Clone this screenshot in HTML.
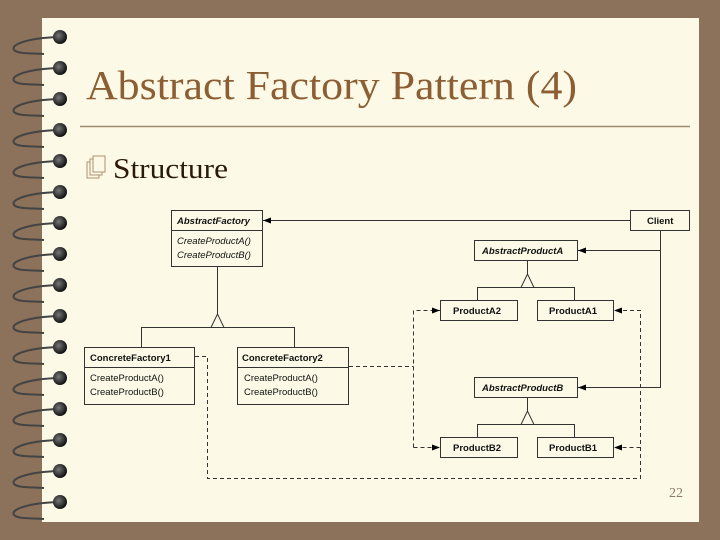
<!DOCTYPE html>
<html><head><style>
body{margin:0;width:720px;height:540px;background:#8C725A;overflow:hidden;position:relative;font-family:"Liberation Serif",serif}
.paper{position:absolute;left:42px;top:18px;width:657px;height:504px;background:#FCFAE6}
</style></head><body>
<div class="paper"></div>
<svg width="720" height="540" style="position:absolute;left:0;top:0" font-family="Liberation Sans, sans-serif">
<defs>
<marker id="ar" markerWidth="8" markerHeight="6" refX="8" refY="3" orient="auto" markerUnits="userSpaceOnUse"><path d="M0,0L8,3L0,6z" fill="#000"/></marker>
<radialGradient id="rg" cx="0.4" cy="0.4" r="0.6"><stop offset="0" stop-color="#777"/><stop offset="1" stop-color="#111"/></radialGradient>
</defs>
<g id="rings">
<g stroke="#444" stroke-width="2" fill="none">
<path d="M58,37 C30,38 10,44 14,50 C18,54 30,53 44,54"/><path d="M58,68 C30,69 10,75 14,81 C18,85 30,84 44,85"/>
<path d="M58,99 C30,100 10,106 14,112 C18,116 30,115 44,116"/><path d="M58,130 C30,131 10,137 14,143 C18,147 30,146 44,147"/>
<path d="M58,161 C30,162 10,168 14,174 C18,178 30,177 44,178"/><path d="M58,192 C30,193 10,199 14,205 C18,209 30,208 44,209"/>
<path d="M58,223 C30,224 10,230 14,236 C18,240 30,239 44,240"/><path d="M58,254 C30,255 10,261 14,267 C18,271 30,270 44,271"/>
<path d="M58,285 C30,286 10,292 14,298 C18,302 30,301 44,302"/><path d="M58,316 C30,317 10,323 14,329 C18,333 30,332 44,333"/>
<path d="M58,347 C30,348 10,354 14,360 C18,364 30,363 44,364"/><path d="M58,378 C30,379 10,385 14,391 C18,395 30,394 44,395"/>
<path d="M58,409 C30,410 10,416 14,422 C18,426 30,425 44,426"/><path d="M58,440 C30,441 10,447 14,453 C18,457 30,456 44,457"/>
<path d="M58,471 C30,472 10,478 14,484 C18,488 30,487 44,488"/><path d="M58,502 C30,503 10,509 14,515 C18,519 30,518 44,519"/>
</g>
<g fill="url(#rg)">
<circle cx="60" cy="37" r="7"/><circle cx="60" cy="68" r="7"/><circle cx="60" cy="99" r="7"/><circle cx="60" cy="130" r="7"/>
<circle cx="60" cy="161" r="7"/><circle cx="60" cy="192" r="7"/><circle cx="60" cy="223" r="7"/><circle cx="60" cy="254" r="7"/>
<circle cx="60" cy="285" r="7"/><circle cx="60" cy="316" r="7"/><circle cx="60" cy="347" r="7"/><circle cx="60" cy="378" r="7"/>
<circle cx="60" cy="409" r="7"/><circle cx="60" cy="440" r="7"/><circle cx="60" cy="471" r="7"/><circle cx="60" cy="502" r="7"/>
</g></g>
<text x="86" y="99" font-family="Liberation Serif, serif" font-size="41" fill="#8B5E34" textLength="491" lengthAdjust="spacingAndGlyphs">Abstract Factory Pattern (4)</text>
<line x1="80" y1="126.5" x2="690" y2="126.5" stroke="#A08A70" stroke-width="1.5"/>
<g stroke="#B09070" fill="#FCFAE6" stroke-width="1"><rect x="87" y="162" width="12" height="16"/><rect x="90" y="159" width="12" height="16"/><rect x="93" y="156" width="12" height="16"/></g>
<text x="113" y="178" font-family="Liberation Serif, serif" font-size="29" fill="#2A1A0A" textLength="115" lengthAdjust="spacingAndGlyphs">Structure</text>
<text x="669" y="497" font-family="Liberation Serif, serif" font-size="14" fill="#8A7A6A">22</text>

<g stroke="#333" stroke-width="1" fill="#FCFAE6">
<rect x="171.5" y="210.5" width="91" height="56"/><line x1="171" y1="230.5" x2="263" y2="230.5"/>
<rect x="630.5" y="210.5" width="59" height="20"/>
<rect x="474.5" y="240.5" width="103" height="20"/>
<rect x="474.5" y="377.5" width="103" height="20"/>
<rect x="440.5" y="300.5" width="77" height="20"/><rect x="537.5" y="300.5" width="76" height="20"/>
<rect x="440.5" y="437.5" width="77" height="20"/><rect x="537.5" y="437.5" width="76" height="20"/>
<rect x="84.5" y="347.5" width="110" height="57"/><line x1="84" y1="367.5" x2="195" y2="367.5"/>
<rect x="237.5" y="347.5" width="111" height="57"/><line x1="237" y1="367.5" x2="349" y2="367.5"/>
</g>
<g stroke="#333" stroke-width="1" fill="none">
<line x1="630" y1="220.5" x2="263" y2="220.5" marker-end="url(#ar)"/>
<polyline points="660.5,231 660.5,387.5 578,387.5" marker-end="url(#ar)"/>
<line x1="660" y1="250.5" x2="578" y2="250.5" marker-end="url(#ar)"/>
<line x1="217.5" y1="267" x2="217.5" y2="314"/>
<polygon points="217.5,314 211,327.5 224,327.5" fill="#FCFAE6"/>
<polyline points="141.5,347 141.5,327.5 294.5,327.5 294.5,347"/>
<line x1="527.5" y1="261" x2="527.5" y2="274"/>
<polygon points="527.5,274 521,287.5 534,287.5" fill="#FCFAE6"/>
<polyline points="477.5,300 477.5,287.5 574.5,287.5 574.5,300"/>
<line x1="527.5" y1="398" x2="527.5" y2="411"/>
<polygon points="527.5,411 521,424.5 534,424.5" fill="#FCFAE6"/>
<polyline points="477.5,437 477.5,424.5 574.5,424.5 574.5,437"/>
</g>
<g stroke="#333" stroke-width="1" fill="none" stroke-dasharray="4,3">
<polyline points="195,356.5 207.5,356.5 207.5,478.5 640.5,478.5 640.5,310.5 614,310.5" marker-end="url(#ar)"/>
<line x1="640.5" y1="447.5" x2="614" y2="447.5" marker-end="url(#ar)"/>
<polyline points="349,366.5 413.5,366.5"/>
<polyline points="413.5,447.5 413.5,310.5 440,310.5" marker-end="url(#ar)"/>
<line x1="413.5" y1="447.5" x2="440" y2="447.5" marker-end="url(#ar)"/>
</g>
<g font-size="9.5" fill="#111">
<text x="177" y="224" font-weight="bold" font-style="italic">AbstractFactory</text>
<text x="177" y="244" font-style="italic">CreateProductA()</text>
<text x="177" y="258" font-style="italic">CreateProductB()</text>
<text x="647" y="224" font-weight="bold">Client</text>
<text x="482" y="254" font-weight="bold" font-style="italic">AbstractProductA</text>
<text x="482" y="391" font-weight="bold" font-style="italic">AbstractProductB</text>
<text x="453" y="314" font-weight="bold">ProductA2</text>
<text x="549" y="314" font-weight="bold">ProductA1</text>
<text x="453" y="451" font-weight="bold">ProductB2</text>
<text x="549" y="451" font-weight="bold">ProductB1</text>
<text x="90" y="361" font-weight="bold">ConcreteFactory1</text>
<text x="90" y="381">CreateProductA()</text>
<text x="90" y="395">CreateProductB()</text>
<text x="242" y="361" font-weight="bold">ConcreteFactory2</text>
<text x="244" y="381">CreateProductA()</text>
<text x="244" y="395">CreateProductB()</text>
</g>
</svg>
</body></html>
